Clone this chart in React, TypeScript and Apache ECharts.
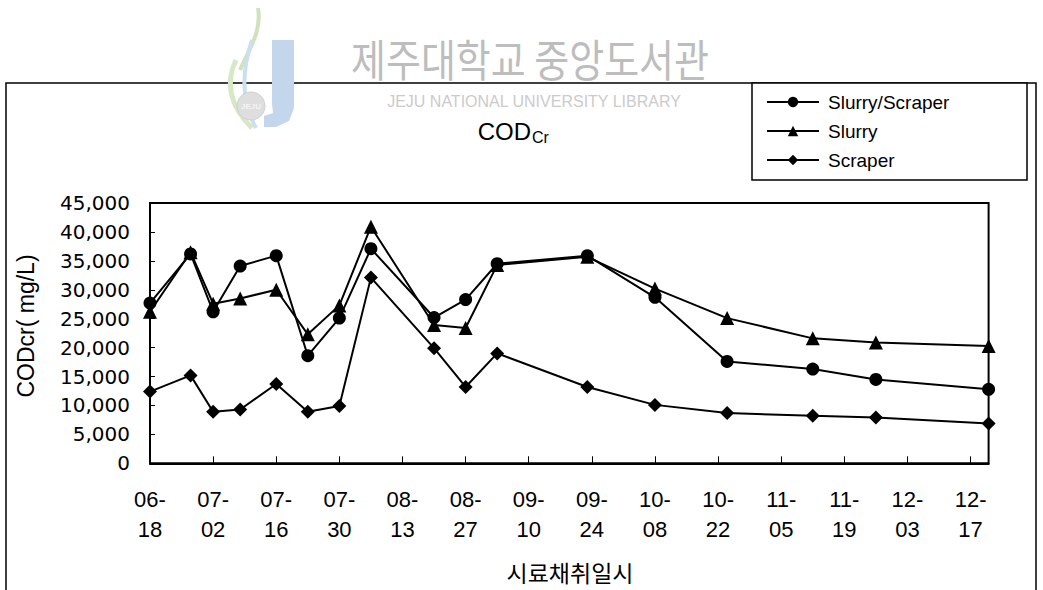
import React, { useEffect, useRef } from "react";
import * as echarts from "echarts";

// Sampling dates (MM-DD) and COD_Cr concentrations (mg/L)
const sampleDates = [
  "06-18", "06-27", "07-02", "07-08", "07-16", "07-23", "07-30", "08-06", "08-20",
  "08-27", "09-03", "09-23", "10-08", "10-24", "11-12", "11-26", "12-21",
];
const slurryScraper = [
  27700, 36200, 26200, 34100, 35900, 18600, 25100, 37100, 25200,
  28300, 34500, 35900, 28700, 17600, 16300, 14500, 12800,
];
const slurry = [
  26200, 36500, 27600, 28500, 30000, 22300, 27300, 40900, 23900,
  23400, 34300, 35700, 30200, 25100, 21600, 20900, 20300,
];
const scraper = [
  12400, 15200, 8900, 9300, 13700, 8900, 9900, 32100, 19900,
  13200, 19000, 13200, 10100, 8700, 8200, 7900, 6900,
];
const tickDates = [
  "06-18", "07-02", "07-16", "07-30", "08-13", "08-27", "09-10",
  "09-24", "10-08", "10-22", "11-05", "11-19", "12-03", "12-17",
];
const seriesNames = ["Slurry/Scraper", "Slurry", "Scraper"];

const YEAR = 2007;
const DAY = 86400000;
const base = Date.UTC(YEAR, 5, 18);
const dayOffset = (md: string) => {
  const [m, d] = md.split("-").map(Number);
  return Math.round((Date.UTC(YEAR, m - 1, d) - base) / DAY);
};
const pad = (n: number) => (n < 10 ? "0" + n : "" + n);
const dayLabel = (v: number) => {
  const dt = new Date(base + v * DAY);
  return `${pad(dt.getUTCMonth() + 1)}-\n${pad(dt.getUTCDate())}`;
};

const FONT = "'Liberation Sans', Arial, sans-serif";

export default function App() {
  const ref = useRef<HTMLDivElement>(null);

  useEffect(() => {
    if (!ref.current) return;
    const chart = echarts.init(ref.current, null, { renderer: "svg" });
    const xs = sampleDates.map(dayOffset);
    const toPairs = (vals: number[]) => vals.map((v, i) => [xs[i], v]);
    const tickValues = tickDates.map(dayOffset);
    const xMax = xs[xs.length - 1];

    const lineSeries = (name: string, vals: number[], symbol: string, size: number) => ({
      name,
      type: "line",
      data: toPairs(vals),
      symbol,
      symbolSize: size,
      showAllSymbol: true,
      lineStyle: { color: "#000", width: 2 },
      itemStyle: { color: "#000", borderColor: "#000", borderWidth: 0 },
      emphasis: { disabled: true },
    });

    chart.setOption({
      animation: false,
      backgroundColor: "#fff",
      textStyle: { fontFamily: FONT },
      grid: {
        left: 150,
        right: 1043 - 988.6,
        top: 203,
        bottom: 590 - 463.3,
        show: true,
        borderColor: "#000",
        borderWidth: 2,
        backgroundColor: "transparent",
      },
      legend: {
        orient: "vertical",
        left: 766,
        top: 92,
        padding: 0,
        itemWidth: 52,
        itemHeight: 13,
        itemGap: 9,
        selectedMode: false,
        data: seriesNames,
        textStyle: { fontFamily: FONT, fontSize: 19, color: "#000", lineHeight: 20, padding: [0, 0, 0, 4] },
      },
      xAxis: {
        type: "value",
        min: 0,
        max: xMax,
        interval: 14,
        axisLine: { show: true, lineStyle: { color: "#000", width: 2 } },
        axisTick: {
          show: true,
          inside: true,
          length: 7,
          lineStyle: { color: "#000", width: 1 },
          customValues: tickValues,
        },
        axisLabel: {
          customValues: tickValues,
          formatter: (v: number) => dayLabel(v),
          fontFamily: FONT,
          fontSize: 22,
          lineHeight: 30,
          color: "#000",
          margin: 21,
        },
        splitLine: { show: false },
      },
      yAxis: {
        type: "value",
        min: 0,
        max: 45000,
        interval: 5000,
        axisLine: { show: true, lineStyle: { color: "#000", width: 2 } },
        axisTick: { show: true, inside: true, length: 5, lineStyle: { color: "#000", width: 1 } },
        axisLabel: {
          formatter: (v: number) => v.toLocaleString("en-US"),
          fontFamily: "'DejaVu Sans', sans-serif",
          fontSize: 20,
          color: "#000",
          margin: 20,
        },
        splitLine: { show: false },
      },
      graphic: [
        // outer frame
        {
          type: "rect",
          silent: true,
          z: 0,
          shape: { x: 6, y: 83, width: 1030, height: 530 },
          style: { fill: "none", stroke: "#000", lineWidth: 1.5 },
        },
        // legend frame
        {
          type: "rect",
          silent: true,
          z: 1,
          shape: { x: 752, y: 83, width: 275, height: 97 },
          style: { fill: "#fff", stroke: "#000", lineWidth: 1.5 },
        },
        // library emblem
        {
          type: "bezierCurve",
          silent: true,
          z: 2,
          shape: { x1: 252, y1: 128, x2: 236, y2: 60, cpx1: 228, cpy1: 105, cpx2: 226, cpy2: 80 },
          style: { stroke: "#d6e8c6", lineWidth: 5, fill: "none" },
        },
        {
          type: "bezierCurve",
          silent: true,
          z: 2,
          shape: { x1: 240, y1: 70, x2: 258, y2: 8, cpx1: 250, cpy1: 48, cpx2: 262, cpy2: 30 },
          style: { stroke: "#cfe3bb", lineWidth: 4, fill: "none" },
        },
        {
          type: "bezierCurve",
          silent: true,
          z: 2,
          shape: { x1: 256, y1: 128, x2: 252, y2: 40, cpx1: 240, cpy1: 100, cpx2: 242, cpy2: 70 },
          style: { stroke: "#cadff0", lineWidth: 4, fill: "none" },
        },
        {
          type: "polygon",
          silent: true,
          z: 2,
          shape: {
            points: [
              [272, 40], [294, 40], [294, 108], [289, 121], [276, 127], [264, 127],
              [264, 116], [273, 113], [272, 104],
            ],
          },
          style: { fill: "#c4d6ec" },
        },
        {
          type: "circle",
          silent: true,
          z: 2,
          shape: { cx: 251, cy: 106, r: 14 },
          style: { fill: "#dedede", stroke: "#cfcfcf", lineWidth: 1 },
        },
        {
          type: "text",
          silent: true,
          z: 3,
          x: 251,
          y: 106,
          style: { text: "JEJU", fontSize: 8, fontWeight: "bold", fill: "#f4f4f4", align: "center", verticalAlign: "middle", fontFamily: FONT },
        },
        {
          type: "text",
          silent: true,
          z: 2,
          x: 530,
          y: 58,
          scaleY: 1.18,
          style: {
            text: "제주대학교 중앙도서관",
            fontFamily: "'Noto Sans CJK KR', sans-serif",
            fontSize: 38,
            fill: "#bdbdbd",
            align: "center",
            verticalAlign: "middle",
          },
        },
        {
          type: "text",
          silent: true,
          z: 2,
          x: 534,
          y: 101,
          style: {
            text: "JEJU NATIONAL UNIVERSITY LIBRARY",
            fontFamily: FONT,
            fontSize: 16,
            fill: "#cbcbcb",
            align: "center",
            verticalAlign: "middle",
          },
        },
        // chart title COD with subscript Cr
        {
          type: "text",
          z: 5,
          x: 531,
          y: 131,
          style: { text: "COD", fontFamily: FONT, fontSize: 24, fill: "#000", align: "right", verticalAlign: "middle" },
        },
        {
          type: "text",
          z: 5,
          x: 532,
          y: 137,
          style: { text: "Cr", fontFamily: FONT, fontSize: 16, fill: "#000", align: "left", verticalAlign: "middle" },
        },
        // axis names
        {
          type: "text",
          z: 5,
          x: 26,
          y: 326,
          rotation: Math.PI / 2,
          style: {
            text: "CODcr( mg/L)",
            fontFamily: FONT,
            fontSize: 23,
            fill: "#000",
            align: "center",
            verticalAlign: "middle",
          },
        },
        {
          type: "text",
          z: 5,
          x: 570,
          y: 572,
          style: {
            text: "시료채취일시",
            fontFamily: "'Noto Sans CJK KR', sans-serif",
            fontSize: 23,
            fill: "#000",
            align: "center",
            verticalAlign: "middle",
          },
        },
      ],
      series: [
        lineSeries(seriesNames[0], slurryScraper, "circle", 13),
        lineSeries(seriesNames[1], slurry, "triangle", 14),
        lineSeries(seriesNames[2], scraper, "diamond", 14),
      ],
    });

    return () => chart.dispose();
  }, []);

  return (
    <div
      ref={ref}
      style={{ position: "fixed", left: 0, top: 0, width: 1043, height: 590, background: "#fff" }}
    />
  );
}
